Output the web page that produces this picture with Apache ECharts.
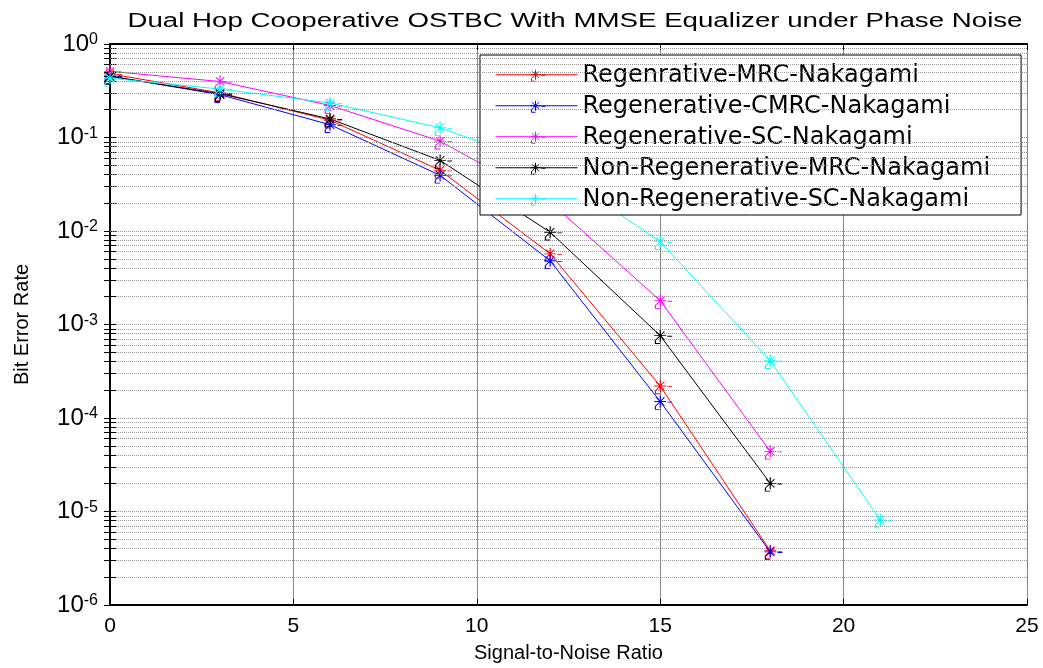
<!DOCTYPE html>
<html>
<head>
<meta charset="utf-8">
<script src="https://cdn.jsdelivr.net/npm/echarts@6/dist/echarts.min.js"></script>
<style>
  html, body { margin: 0; padding: 0; background: #fff; }
  #chart { width: 1043px; height: 668px; }
</style>
</head>
<body>
<div id="chart"></div>
<script>
// SNR points (dB)
const snr = [0, 3, 6, 9, 12, 15, 18, 21];

// BER curves
const berRegMRC    = [0.48, 0.30, 0.153, 0.0446, 5.7e-3, 2.2e-4, 3.8e-6];
const berRegCMRC   = [0.455, 0.287, 0.137, 0.0394, 4.8e-3, 1.5e-4, 3.7e-6];
const berRegSC     = [0.51, 0.397, 0.22, 0.0914, 0.0204, 1.8e-3, 4.4e-5];
const berNonRegMRC = [0.45, 0.294, 0.158, 0.0569, 9.7e-3, 7.6e-4, 2.0e-5];
const berNonRegSC  = [0.43, 0.33, 0.234, 0.127, 0.048, 7.7e-3, 4.1e-4, 8.1e-6];

const names = [
  'Regenrative-MRC-Nakagami',
  'Regenerative-CMRC-Nakagami',
  'Regenerative-SC-Nakagami',
  'Non-Regenerative-MRC-Nakagami',
  'Non-Regenerative-SC-Nakagami'
];
const colors = ['#ff0000', '#0000ff', '#ff00ff', '#000000', '#00ffff'];
const curves = [berRegMRC, berRegCMRC, berRegSC, berNonRegMRC, berNonRegSC];

const xTicks = [0, 5, 10, 15, 20, 25];
const yDecades = [1e-6, 1e-5, 1e-4, 1e-3, 1e-2, 1e-1, 1];

const titleText = 'Dual Hop Cooperative OSTBC With MMSE Equalizer under Phase Noise';

// minor log grid values (2..9 x 10^k)
const yMinor = [];
for (let k = -6; k < 0; k++) {
  for (let m = 2; m <= 9; m++) yMinor.push(+(m * Math.pow(10, k)).toPrecision(3));
}

// the figure was stretched sideways, so the title is widened to the same span
const titleFont = '20px "Liberation Sans", Arial, sans-serif';
const ctx = document.createElement('canvas').getContext('2d');
ctx.font = titleFont;
const titleScale = 895 / ctx.measureText(titleText).width;

// asterisk marker with the little resampling artefacts seen in the figure
const star = 'path://M0 5L10 5M5 0L5 10M1.5 1.5L8.5 8.5M1.5 8.5L8.5 1.5M11 5.5L15 5.5M1 8.5L1 11.5L5 11.5';
// legend sample: line with the same marker in the middle (82 x 11.5 box)
const legendIcon = 'path://M0 5L82 5M35 5L45 5M40 0L40 10M36.5 1.5L43.5 8.5M36.5 8.5L43.5 1.5M46 5.5L50 5.5M36 8.5L36 11.5L40 11.5';

const chart = echarts.init(document.getElementById('chart'));

const series = curves.map((vals, i) => ({
  name: names[i],
  type: 'line',
  data: vals.map((v, j) => [snr[j], v]),
  symbol: star,
  symbolSize: [18, 13.8],
  symbolOffset: [3, 0.9],
  lineStyle: { color: colors[i], width: 1 },
  itemStyle: { color: 'rgba(0,0,0,0)', borderColor: colors[i], borderWidth: 1 },
  z: 3
}));

// minor grid lines
series.unshift({
  type: 'line',
  data: [],
  z: 1,
  silent: true,
  markLine: {
    silent: true,
    symbol: 'none',
    label: { show: false },
    animation: false,
    lineStyle: { color: '#999', type: 'dotted', width: 1 },
    data: yMinor.map(v => ({ yAxis: v }))
  }
});

const axisText = { fontFamily: 'Liberation Sans Narrow, Liberation Sans, Arial', fontSize: 20, color: '#000' };

const option = {
  animation: false,
  backgroundColor: '#fff',
  graphic: [{
    type: 'text',
    x: 575,
    y: 21,
    scaleX: titleScale,
    style: {
      text: titleText,
      font: titleFont,
      fill: '#000',
      textAlign: 'center',
      textVerticalAlign: 'middle'
    }
  }],
  grid: { left: 110, right: 16, top: 44, bottom: 60 },
  legend: {
    data: names.map((n, i) => ({
      name: n,
      icon: legendIcon,
      itemStyle: { color: 'rgba(0,0,0,0)', borderColor: colors[i], borderWidth: 1 }
    })),
    orient: 'vertical',
    left: 480,
    top: 55,
    padding: [8, 31, 3, 15],
    itemWidth: 82,
    itemHeight: 11.5,
    itemGap: 6,
    symbolKeepAspect: false,
    backgroundColor: '#fff',
    borderColor: '#000',
    borderWidth: 1,
    textStyle: { fontFamily: 'DejaVu Sans', fontSize: 24, color: '#000', lineHeight: 25 }
  },
  xAxis: [
    {
      type: 'value',
      min: 0, max: 25, interval: 5,
      name: 'Signal-to-Noise Ratio',
      nameLocation: 'middle',
      nameGap: 38,
      nameTextStyle: axisText,
      axisLine: { lineStyle: { color: '#000', width: 2 } },
      axisTick: { inside: true, length: 6, lineStyle: { color: '#000' } },
      axisLabel: Object.assign({ margin: 11, formatter: v => xTicks.includes(v) ? String(v) : '' }, axisText, { fontSize: 21 }),
      splitLine: { show: true, lineStyle: { color: '#888', width: 1 } }
    },
    {
      type: 'value', position: 'top',
      min: 0, max: 25, interval: 5,
      axisLine: { lineStyle: { color: '#000', width: 2 } },
      axisTick: { inside: true, length: 6, lineStyle: { color: '#000' } },
      axisLabel: { show: false },
      splitLine: { show: false }
    }
  ],
  yAxis: [
    {
      type: 'log', logBase: 10,
      min: 1e-6, max: 1, interval: 1,
      name: 'Bit Error Rate',
      nameLocation: 'middle',
      nameGap: 78,
      nameTextStyle: axisText,
      axisLine: { show: true, lineStyle: { color: '#000', width: 2 } },
      axisTick: { inside: true, length: 6, lineStyle: { color: '#000' }, customValues: yDecades.concat(yMinor) },
      axisLabel: {
        margin: 12,
        formatter: v => '{b|10}{s|' + Math.round(Math.log10(v)) + '}',
        rich: {
          b: { fontFamily: 'Liberation Sans, Arial', fontSize: 24, color: '#000', verticalAlign: 'bottom', lineHeight: 24 },
          s: { fontFamily: 'Liberation Sans, Arial', fontSize: 16, color: '#000', verticalAlign: 'top', lineHeight: 16, padding: [0, 0, 18, 0] }
        }
      },
      splitLine: { show: true, lineStyle: { color: '#999', type: 'dotted', width: 1 } }
    },
    {
      type: 'log', logBase: 10, position: 'right',
      min: 1e-6, max: 1, interval: 1,
      axisLine: { show: true, lineStyle: { color: '#000', width: 2 } },
      axisTick: { inside: true, length: 6, lineStyle: { color: '#000' }, customValues: yDecades.concat(yMinor) },
      axisLabel: { show: false },
      splitLine: { show: false }
    }
  ],
  series: series
};

chart.setOption(option);
</script>
</body>
</html>
